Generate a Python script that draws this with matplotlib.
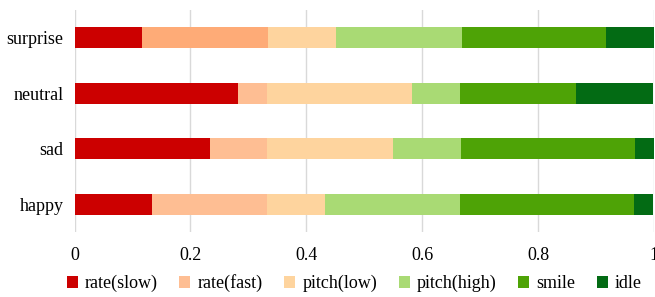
import matplotlib.pyplot as plt
import numpy as np

plt.rcParams['font.family'] = ['Liberation Serif', 'DejaVu Serif']

emotions = ['happy', 'sad', 'neutral', 'surprise']
labels = ['rate(slow)', 'rate(fast)', 'pitch(low)', 'pitch(high)', 'smile', 'idle']
rate_slow = [0.133, 0.233, 0.283, 0.117]
rate_fast = [0.200, 0.100, 0.050, 0.217]
pitch_low = [0.100, 0.217, 0.250, 0.117]
pitch_high = [0.233, 0.117, 0.083, 0.217]
smile = [0.300, 0.300, 0.200, 0.250]
idle = [0.033, 0.033, 0.133, 0.083]

series = [rate_slow, rate_fast, pitch_low, pitch_high, smile, idle]
colors = ['#cc0000', '#febe93', '#fed49e', '#a9da74', '#4ea306', '#036b14']
# surprise bar has a slightly darker rate(fast) in the original
fast_colors = ['#febe93', '#febe93', '#febe93', '#feab77']

fig = plt.figure(figsize=(6.55, 2.97), dpi=100)
ax = fig.add_axes([74.5/655, 1-232/297, 579.5/655, 222/297])

y = np.arange(len(emotions))
left = np.zeros(len(emotions))
for i, vals in enumerate(series):
    c = fast_colors if i == 1 else colors[i]
    ax.barh(y, vals, left=left, height=0.38, color=c, label=labels[i], zorder=3)
    left += np.array(vals)

ax.set_yticks(y)
ax.set_yticklabels(emotions, fontsize=13)
ax.set_xlim(0, 1)
ax.set_ylim(-0.5, 3.5)
ax.set_xticks([0, 0.2, 0.4, 0.6, 0.8, 1])
ax.set_xticklabels(['0', '0.2', '0.4', '0.6', '0.8', '1'], fontsize=13)
ax.tick_params(axis='x', length=0, pad=11)
ax.tick_params(axis='y', length=0, pad=8)
ax.grid(axis='x', color='#d9d9d9', lw=1, zorder=0)
for s in ax.spines.values():
    s.set_visible(False)

ax.legend(loc='upper center', bbox_to_anchor=(0.483, -0.158), ncol=6, frameon=False,
          fontsize=13, handlelength=0.6, handleheight=0.6, handletextpad=0.4,
          columnspacing=1.2, borderaxespad=0)

fig.savefig('out.png', dpi=100)
